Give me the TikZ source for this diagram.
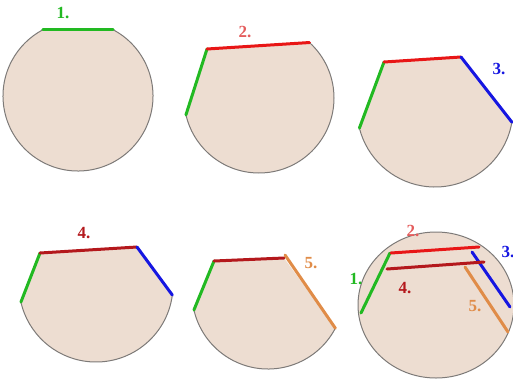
\documentclass[tikz,border=0pt]{standalone}
\usepackage{fontspec}
\setmainfont{Liberation Serif}
\definecolor{skin}{RGB}{237,221,209}
\definecolor{edgec}{RGB}{125,122,120}
\definecolor{cg}{RGB}{34,185,34}
\definecolor{cr}{RGB}{232,22,22}
\definecolor{cpink}{RGB}{228,92,92}
\definecolor{cb}{RGB}{22,22,225}
\definecolor{cdr}{RGB}{180,24,28}
\definecolor{co}{RGB}{224,140,72}
\begin{document}
\begin{tikzpicture}[x=1pt,y=-1pt,
  rim/.style={draw=edgec,line width=1pt},
  cut/.style={line width=3pt,line cap=round},
  lbl/.style={font=\fontsize{17}{17}\selectfont\bfseries}]
\useasboundingbox (0,0) rectangle (513,383);
% panel 1
\begin{scope}[shift={(78,96)}]
  \fill[skin] (-62:75) arc[start angle=-62,end angle=242,radius=75] -- cycle;
  \draw[rim] (-62:75) arc[start angle=-62,end angle=242,radius=75];
  \draw[cut,cg] (242:75) -- (-62:75);
\end{scope}
\node[lbl,text=cg] (l1a) at (63,13) {1.};
% panel 2
\begin{scope}[shift={(259,98)}]
  \fill[skin] (-52,-49) -- (-47.7:75) arc[start angle=-47.7,end angle=167,radius=75] -- cycle;
  \draw[rim] (-47.7:75) arc[start angle=-47.7,end angle=167,radius=75];
  \draw[cut,cg] (167:75) -- (-52,-49);
  \draw[cut,cr] (-52,-49) -- (-47.7:75);
\end{scope}
\node[lbl,text=cpink] (l2a) at (245,32) {2.};
% panel 3
\begin{scope}[shift={(435,109)}]
  \fill[skin] (-51,-47) -- (26,-52) -- (9.7:78) arc[start angle=9.7,end angle=165.8,radius=78] -- cycle;
  \draw[rim] (9.7:78) arc[start angle=9.7,end angle=165.8,radius=78];
  \draw[cut,cg] (165.8:78) -- (-51,-47);
  \draw[cut,cr] (-51,-47) -- (26,-52);
  \draw[cut,cb] (26,-52) -- (9.7:78);
\end{scope}
\node[lbl,text=cb] (l3a) at (499,69) {3.};
% panel 4
\begin{scope}[shift={(96,285)}]
  \fill[skin] (-56,-32) -- (41,-38) -- (7.5:77) arc[start angle=7.5,end angle=167.2,radius=77] -- cycle;
  \draw[rim] (7.5:77) arc[start angle=7.5,end angle=167.2,radius=77];
  \draw[cut,cg] (167.2:77) -- (-56,-32);
  \draw[cut,cdr] (-56,-32) -- (41,-38);
  \draw[cut,cb] (41,-38) -- (7.5:77);
\end{scope}
\node[lbl,text=cdr] (l4a) at (84,233) {4.};
% panel 5
\begin{scope}[shift={(268,293)}]
  \fill[skin] (-54,-32) -- (16,-35) -- (27.6:76) arc[start angle=27.6,end angle=167.1,radius=76] -- cycle;
  \draw[rim] (27.6:76) arc[start angle=27.6,end angle=167.1,radius=76];
  \draw[cut,cg] (167.1:76) -- (-54,-32);
  \draw[cut,cdr] (-54,-32) -- (16,-35);
  \draw[cut,co] (17,-38) -- (27.6:76);
\end{scope}
\node[lbl,text=co] (l5a) at (311,263) {5.};
% panel 6
\fill[skin] (436,305) ellipse[x radius=78,y radius=73];
\draw[rim] (436,305) ellipse[x radius=78,y radius=73];
\draw[cut,cg] (390,253) -- (361,313);
\draw[cut,cb] (472,252) -- (510,307);
\draw[cut,co] (465,267) -- (508,332);
\draw[cut,cr] (391,253) -- (479,247);
\draw[cut,cdr] (387,269) -- (484,262);
\node[lbl,text=cpink] (l2b) at (413,231) {2.};
\node[lbl,text=cb] (l3b) at (508,252) {3.};
\node[lbl,text=cg] (l1b) at (356,279) {1.};
\node[lbl,text=cdr] (l4b) at (405,288) {4.};
\node[lbl,text=co] (l5b) at (475,306) {5.};
\end{tikzpicture}
\end{document}
